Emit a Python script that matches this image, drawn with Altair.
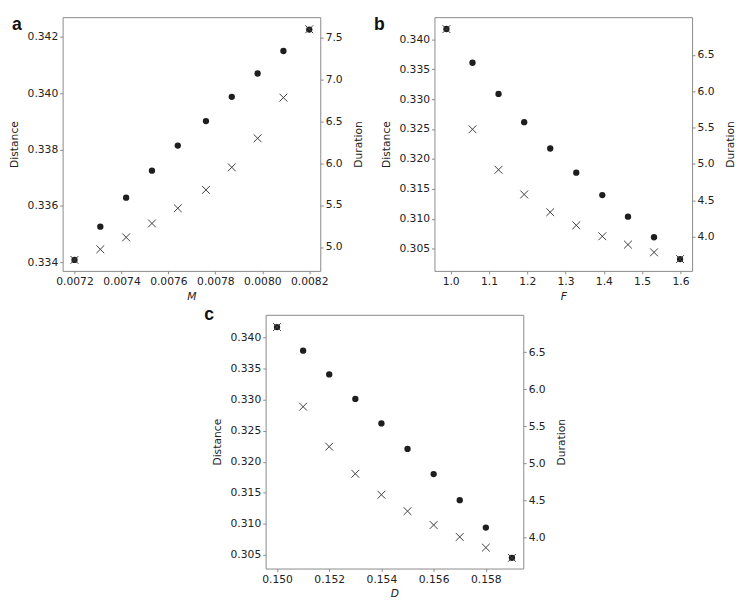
import altair as alt
import pandas as pd

# Panel a
M_vals = [0.0072, 0.00731, 0.00742, 0.00753, 0.00764, 0.00776, 0.00787, 0.00798, 0.00809, 0.0082]
a_dist = [0.33408, 0.33526, 0.33629, 0.33725, 0.33814, 0.33901, 0.33987, 0.34070, 0.34150, 0.34226]
a_dur = [4.846, 4.973, 5.115, 5.281, 5.462, 5.681, 5.950, 6.296, 6.781, 7.596]

# Panel b
F_vals = [0.989, 1.057, 1.125, 1.192, 1.260, 1.328, 1.396, 1.463, 1.531, 1.599]
b_dist = [0.34172, 0.33608, 0.33087, 0.32615, 0.32175, 0.31772, 0.31397, 0.31037, 0.30693, 0.30328]
b_dur = [6.858, 5.478, 4.920, 4.580, 4.336, 4.155, 4.004, 3.889, 3.783, 3.690]

# Panel c
D_vals = [0.150, 0.151, 0.152, 0.153, 0.154, 0.155, 0.156, 0.157, 0.158, 0.159]
c_dist = [0.34166, 0.33787, 0.33404, 0.33010, 0.32616, 0.32206, 0.31802, 0.31382, 0.30941, 0.30454]
c_dur = [6.840, 5.764, 5.224, 4.858, 4.575, 4.353, 4.166, 4.005, 3.861, 3.722]

FONT = "DejaVu Sans"
W, H = 264, 260


def panel(letter, xs, dist, dur, xtitle, xdom, xticks, xfmt, ddom, dticks, udom, uticks, lx, ly):
    df = pd.DataFrame({"x": xs, "Distance": dist, "Duration": dur})
    x = alt.X("x:Q", title=xtitle,
              scale=alt.Scale(domain=xdom, zero=False, nice=False),
              axis=alt.Axis(values=xticks, format=xfmt, titleFontStyle="italic"))
    circles = alt.Chart(df).mark_point(filled=True, shape="circle", size=42,
                                       color="#1e1e1e", opacity=1).encode(
        x=x,
        y=alt.Y("Distance:Q", title="Distance",
                scale=alt.Scale(domain=ddom, zero=False, nice=False),
                axis=alt.Axis(values=dticks, format=".3f", orient="left", titlePadding=8)),
    )
    crosses = alt.Chart(df).mark_point(shape="M-1,-1L1,1M-1,1L1,-1", size=64,
                                       filled=False, color="#3a3a3a",
                                       strokeWidth=1, opacity=1).encode(
        x=x,
        y=alt.Y("Duration:Q", title="Duration",
                scale=alt.Scale(domain=udom, zero=False, nice=False),
                axis=alt.Axis(values=uticks, format=".1f", orient="right",
                              titlePadding=11, titleAngle=270, titleBaseline="top")),
    )
    lab = alt.Chart(pd.DataFrame({"t": [letter]})).mark_text(
        font="Liberation Sans", fontWeight="bold", fontSize=18,
        align="left", baseline="top", color="#111111"
    ).encode(text="t:N", x=alt.value(lx), y=alt.value(ly))
    return alt.layer(circles, crosses, lab).resolve_scale(y="independent").properties(
        width=W, height=H)


pa = panel("a", M_vals, a_dist, a_dur, "M", [0.0071495, 0.008247],
           [0.0072, 0.0074, 0.0076, 0.0078, 0.0080, 0.0082], ".4f",
           [0.33369, 0.3427], [0.334, 0.336, 0.338, 0.340, 0.342],
           [4.715, 7.74], [5.0, 5.5, 6.0, 6.5, 7.0, 7.5], -52, -1)
pb = panel("b", F_vals, b_dist, b_dur, "F", [0.9577, 1.6304],
           [1.0, 1.1, 1.2, 1.3, 1.4, 1.5, 1.6], ".1f",
           [0.30130, 0.34370], [0.305, 0.310, 0.315, 0.320, 0.325, 0.330, 0.335, 0.340],
           [3.527, 7.022], [4.0, 4.5, 5.0, 5.5, 6.0, 6.5], -62, -1)
pc = panel("c", D_vals, c_dist, c_dur, "D", [0.149564, 0.159433],
           [0.150, 0.152, 0.154, 0.156, 0.158], ".3f",
           [0.30282, 0.34363], [0.305, 0.310, 0.315, 0.320, 0.325, 0.330, 0.335, 0.340],
           [3.578, 7.005], [4.0, 4.5, 5.0, 5.5, 6.0, 6.5], -63, -9)

# empty, invisible spacer that shifts panel c to the right
spacer = alt.Chart(pd.DataFrame({"v": [0]})).mark_point(opacity=0).encode(
    x=alt.value(0), y=alt.value(0)
).properties(width=141, height=10, view=alt.ViewBackground(strokeOpacity=0))

top = alt.hconcat(pa, pb, spacing=9)
bottom = alt.hconcat(spacer, pc, spacing=3)
chart = alt.vconcat(top, bottom, spacing=3).properties(padding=0).configure_view(
    stroke="#888888", strokeWidth=1
).configure_axis(
    grid=False, domain=False, tickSize=3, tickColor="#888888", tickWidth=1,
    labelFont=FONT, labelFontSize=11, labelColor="#222222", labelPadding=2,
    titleFont=FONT, titleFontSize=11, titleColor="#222222", titleFontWeight="normal",
)

chart.save("out.html", embed_options={"renderer": "svg", "actions": False})
